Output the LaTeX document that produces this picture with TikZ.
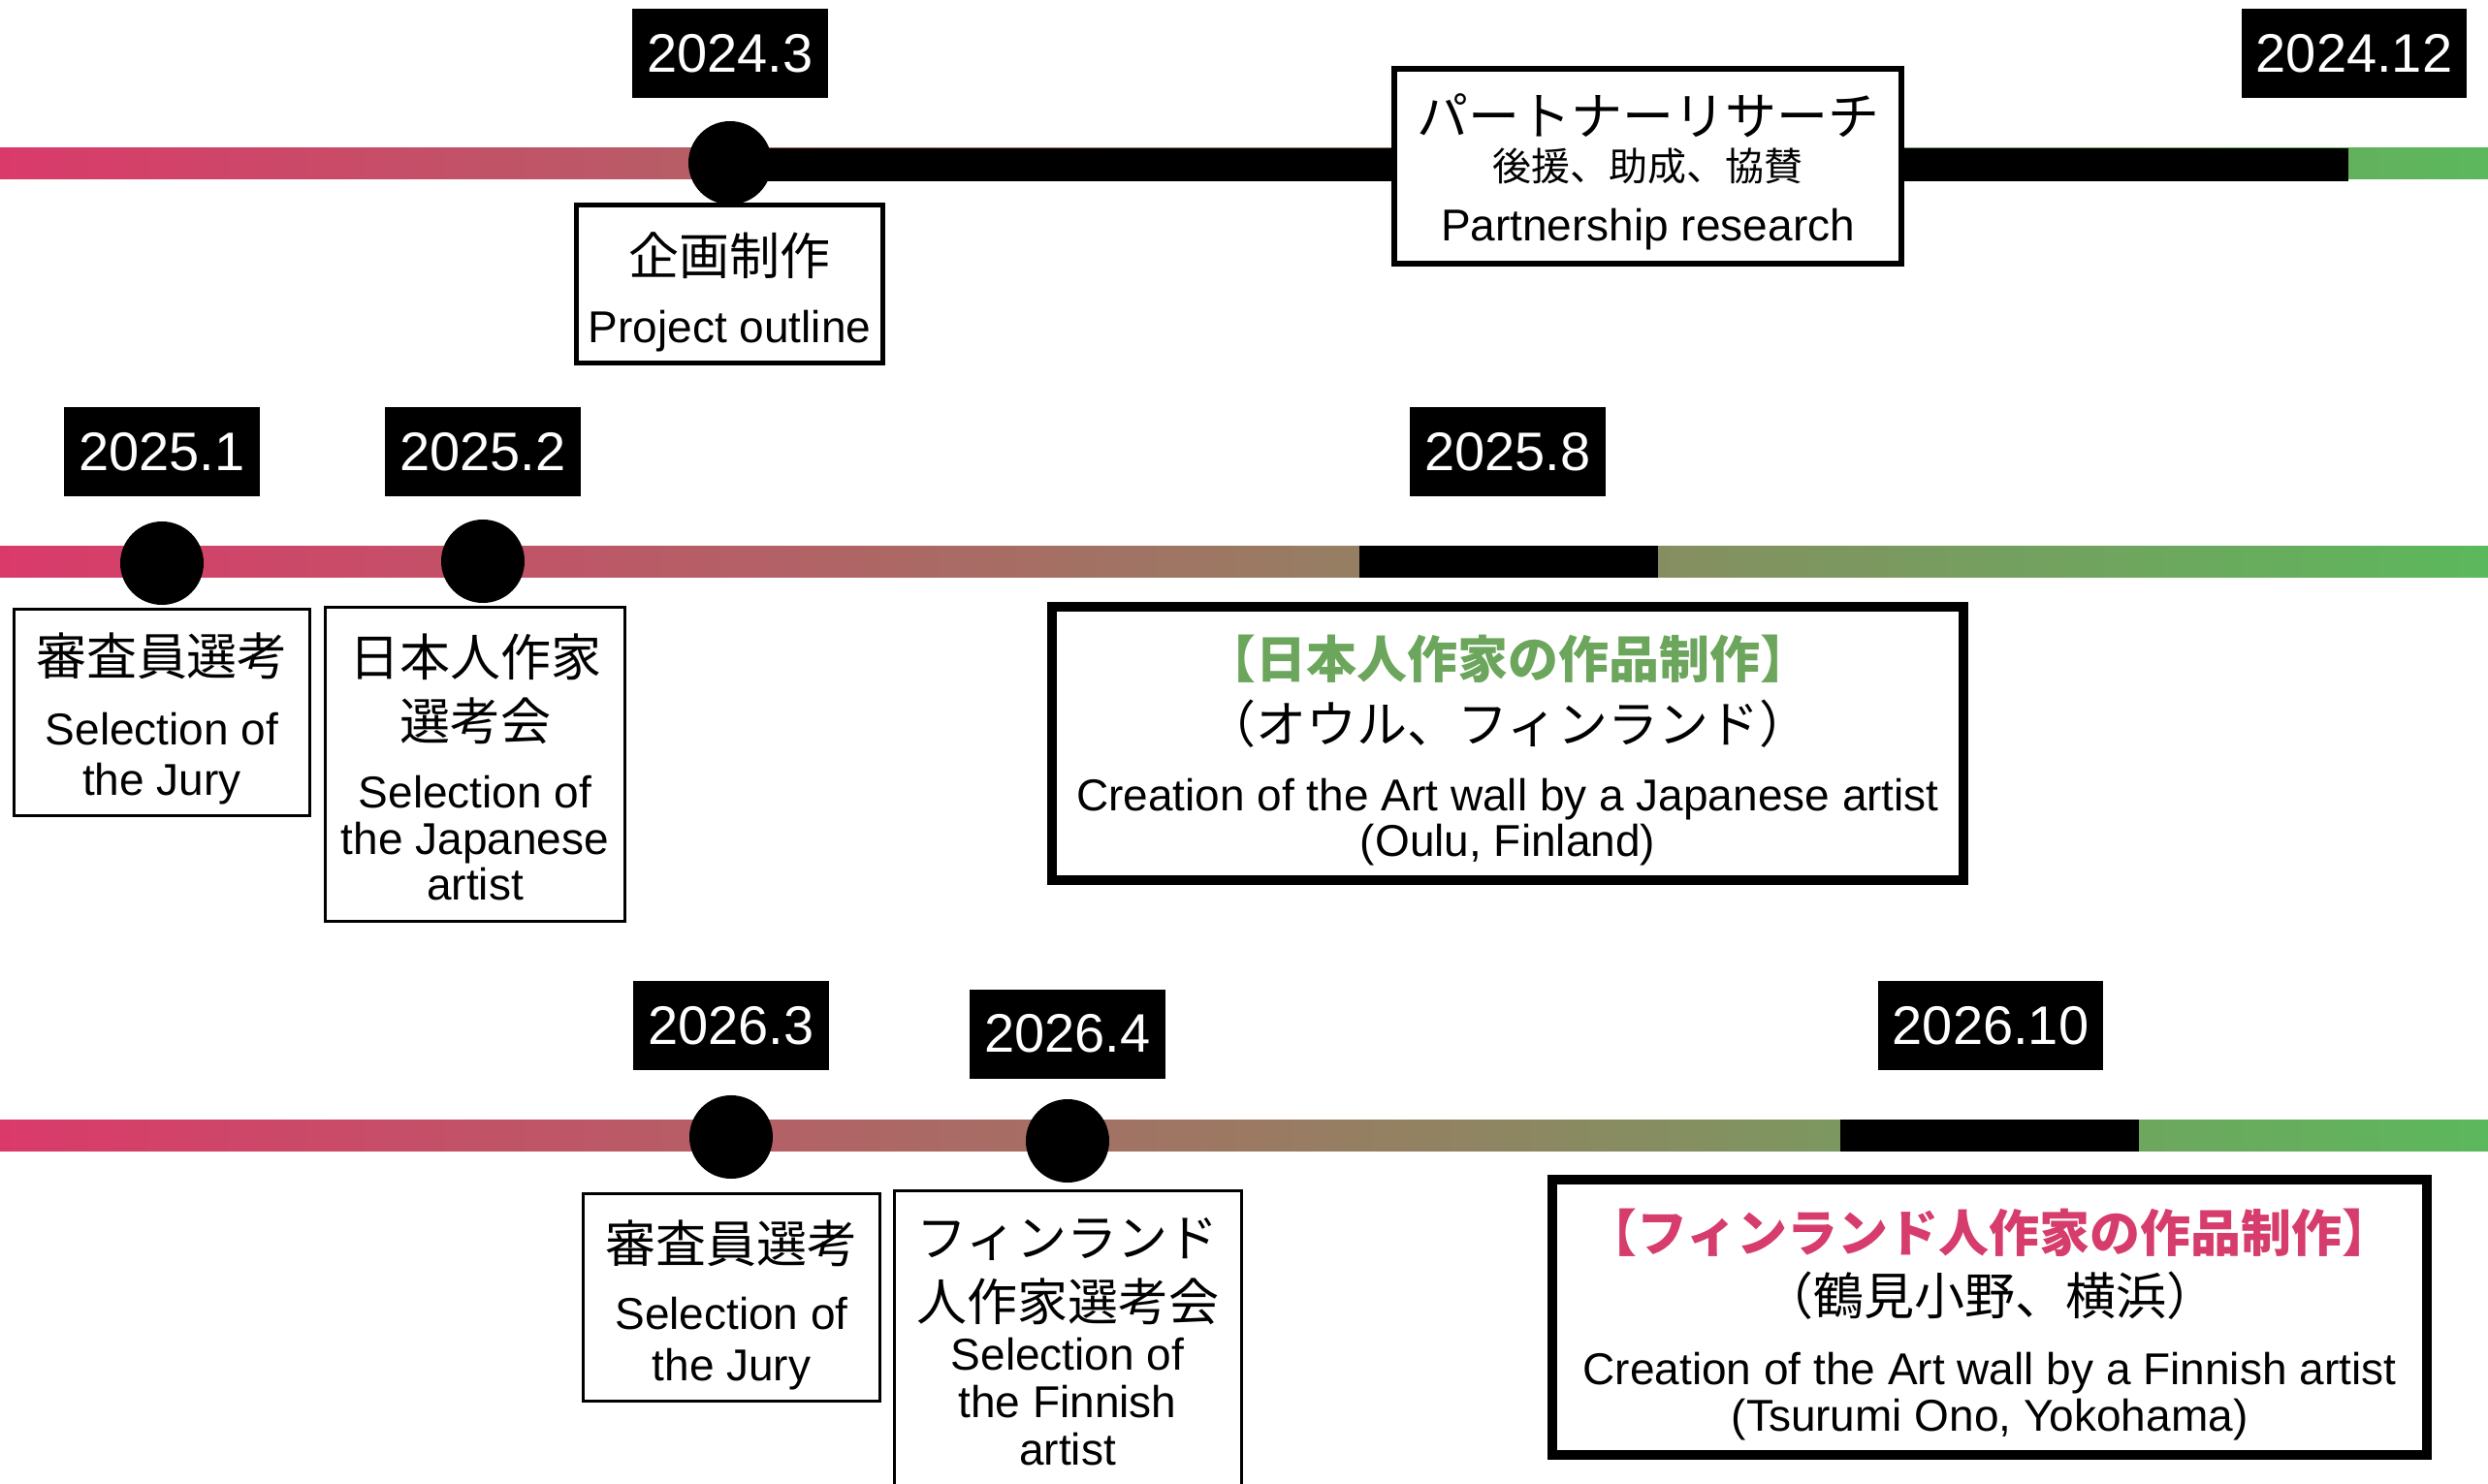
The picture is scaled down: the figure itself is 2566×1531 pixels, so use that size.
\documentclass[tikz,border=0pt]{standalone}
\usepackage{fontspec}
\setmainfont{Liberation Sans}
\newfontfamily\cjk{Noto Sans CJK JP}
\definecolor{pinkc}{RGB}{218,58,106}
\definecolor{greenc}{RGB}{92,184,92}
\definecolor{gtext}{RGB}{108,165,92}
\definecolor{ptext}{RGB}{214,60,108}
\tikzset{
  datebox/.style={fill=black, text=white, inner xsep=7.5pt, inner ysep=0pt, minimum height=46pt, font=\fontsize{28}{28}\selectfont},
  lat/.style={anchor=base, inner sep=0pt, font=\fontsize{23}{23}\selectfont},
  jp/.style={anchor=base, inner sep=0pt, font=\cjk\fontsize{26}{26}\selectfont},
  jps/.style={anchor=base, inner sep=0pt, font=\cjk\fontsize{20}{20}\selectfont},
  jpt/.style={anchor=base, inner sep=0pt, font=\cjk\bfseries\fontsize{26}{26}\selectfont},
  tdot/.style={circle, fill=black, minimum size=43pt, inner sep=0pt},
  thinbox/.style={draw=black, fill=white, line width=1.5pt, inner sep=0pt},
  midbox/.style={draw=black, fill=white, line width=2.5pt, inner sep=0pt},
  thickbox/.style={draw=black, fill=white, line width=5pt, inner sep=0pt},
  bar/.style={left color=pinkc, right color=greenc}
}
\begin{document}
\begin{tikzpicture}[x=0.5pt,y=-0.5pt]
\useasboundingbox (0,0) rectangle (2566,1531);
\clip (0,0) rectangle (2566,1531);
% timeline bars
\shade[bar] (0,152) rectangle (2566,184);
\shade[bar] (0,563) rectangle (2566,595);
\shade[bar] (0,1155) rectangle (2566,1187);
% black segments
\fill[black] (753,153) rectangle (2422,187);
\fill[black] (1402,563) rectangle (1710,596);
\fill[black] (1898,1155) rectangle (2206,1188);
% dots
\node[tdot] (p1) at (753,168) {};
\node[tdot] (p2) at (167,581) {};
\node[tdot] (p3) at (498,579) {};
\node[tdot] (p4) at (754,1173) {};
\node[tdot] (p5) at (1101,1177) {};
% boxes
\node[midbox, minimum width=158pt, minimum height=81.5pt] (b1) at (752.5,293) {};
\node[draw=black, fill=white, line width=3pt, inner sep=0pt, minimum width=261.5pt, minimum height=100.5pt] (b2) at (1699.5,171.5) {};
\node[thinbox, minimum width=152.5pt, minimum height=106.5pt] (b3) at (167,735) {};
\node[thinbox, minimum width=154.5pt, minimum height=162pt] (b4) at (490,788.5) {};
\node[thickbox, minimum width=470pt, minimum height=141pt] (b5) at (1555,767) {};
\node[thinbox, minimum width=153pt, minimum height=107pt] (b6) at (754.5,1338.5) {};
\node[thinbox, minimum width=179pt, minimum height=165pt] (b7) at (1101.5,1393.5) {};
\node[thickbox, minimum width=451pt, minimum height=142pt] (b8) at (2052,1359) {};
% box texts
\node[jp] (t1a) at (752.5,283) {企画制作};
\node[lat] (t1b) at (752.5,353) {Project outline};
\node[jp, font=\cjk\fontsize{26.5}{26.5}\selectfont] (t2a) at (1699.5,139) {パートナーリサーチ};
\node[jps] (t2b) at (1699.5,186) {後援、助成、協賛};
\node[lat] (t2c) at (1699.5,248) {Partnership research};
\node[jp] (t3a) at (167,696) {審査員選考};
\node[lat] (t3b) at (167,768) {Selection of};
\node[lat] (t3c) at (167,820) {the Jury};
\node[jp] (t4a) at (490,697) {日本人作家};
\node[jp] (t4b) at (490,763) {選考会};
\node[lat] (t4c) at (490,833) {Selection of};
\node[lat] (t4d) at (490,881) {the Japanese};
\node[lat] (t4e) at (490,928) {artist};
\node[jpt, text=gtext] (t5a) at (1555,699) {【日本人作家の作品制作】};
\node[jp] (t5b) at (1555,766) {（オウル、フィンランド）};
\node[lat] (t5c) at (1555,836) {Creation of the Art wall by a Japanese artist};
\node[lat] (t5d) at (1555,883) {(Oulu, Finland)};
\node[jp] (t6a) at (754.5,1302) {審査員選考};
\node[lat] (t6b) at (754.5,1371) {Selection of};
\node[lat] (t6c) at (754.5,1424) {the Jury};
\node[jp] (t7a) at (1101,1296) {フィンランド};
\node[jp] (t7b) at (1101,1362) {人作家選考会};
\node[lat] (t7c) at (1101,1413) {Selection of};
\node[lat] (t7d) at (1101,1462) {the Finnish};
\node[lat] (t7e) at (1101,1511) {artist};
\node[jpt, text=ptext] (t8a) at (2052,1291) {【フィンランド人作家の作品制作】};
\node[jp] (t8b) at (2052,1356) {（鶴見小野、横浜）};
\node[lat] (t8c) at (2052,1428) {Creation of the Art wall by a Finnish artist};
\node[lat] (t8d) at (2052,1476) {(Tsurumi Ono, Yokohama)};
% date labels
\node[datebox] (d1) at (753,55) {2024.3};
\node[datebox] (d2) at (2428,55) {2024.12};
\node[datebox] (d3) at (167,466) {2025.1};
\node[datebox] (d4) at (498,466) {2025.2};
\node[datebox] (d5) at (1555,466) {2025.8};
\node[datebox] (d6) at (754,1058) {2026.3};
\node[datebox] (d7) at (1101,1066.5) {2026.4};
\node[datebox] (d8) at (2053,1058) {2026.10};
\end{tikzpicture}
\end{document}
